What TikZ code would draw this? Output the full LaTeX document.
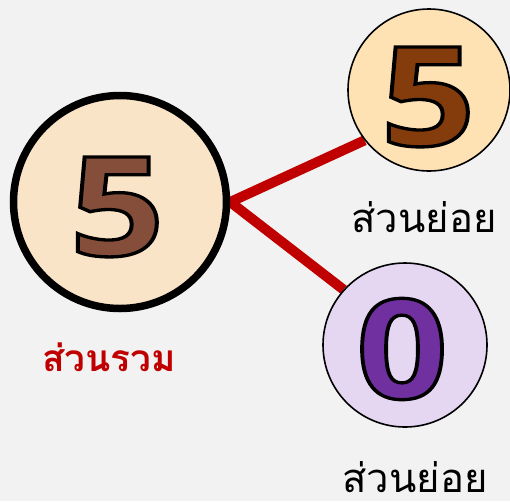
\documentclass[tikz,border=0pt]{standalone}
\usepackage{fontspec}
\usetikzlibrary{backgrounds}
\setmainfont{Open Sans}
\newfontfamily\thaifont[Script=Thai]{Loma}
\newfontface\digitfont[FakeBold=2.4]{Open Sans Bold}
\definecolor{bg}{HTML}{F2F2F2}
\definecolor{bigfill}{HTML}{FAE4C8}
\definecolor{topfill}{HTML}{FEE2B4}
\definecolor{botfill}{HTML}{E5D6F2}
\definecolor{linkred}{HTML}{C00000}
\newcommand{\outl}[2]{\special{pdf:bcolor [#1] [0]}#2\special{pdf:ecolor}}
\tikzset{
  bigcirc/.style={circle, draw=black, line width=7.5pt, fill=bigfill, minimum size=213pt, inner sep=0pt},
  smallcirc/.style={circle, draw=black, line width=1.6pt, minimum size=162pt, inner sep=0pt},
  digit/.style={inner sep=0pt, font=\digitfont\fontsize{138}{138}\selectfont},
  label/.style={inner sep=0pt, anchor=base, font=\thaifont\fontsize{40}{40}\selectfont},
  link/.style={line width=10pt, draw=linkred}
}
\begin{document}
\begin{tikzpicture}[x=1pt,y=-1pt]
\useasboundingbox (0,0) rectangle (510,501);
\node[bigcirc] (whole) at (120,202) {};
\node[smallcirc, fill=topfill] (partA) at (429,90) {};
\node[smallcirc, fill=botfill, minimum size=164pt] (partB) at (405,345) {};
\begin{pgfonlayer}{background}
\fill[bg] (0,0) rectangle (510,501);
\draw[link] (whole.east) -- (partA.218);
\draw[link] (whole.east) -- (partB.138);
\end{pgfonlayer}
\node[digit] (dA) at (117,207) {\scalebox{1.2}[1]{\outl{0.522 0.306 0.231}{5}}};
\node[digit] (dB) at (428,97) {\scalebox{1.2}[1]{\outl{0.518 0.235 0.047}{5}}};
\node[digit] (dC) at (402,349) {\scalebox{1.16}[1]{\outl{0.439 0.188 0.627}{0}}};
\node[label, text=linkred, font=\thaifont\bfseries\fontsize{37}{37}\selectfont] (lw) at (109,371) {ส่วนรวม};
\node[label, text=black] (lA) at (424,232) {ส่วนย่อย};
\node[label, text=black] (lB) at (415,492) {ส่วนย่อย};
\end{tikzpicture}
\end{document}
